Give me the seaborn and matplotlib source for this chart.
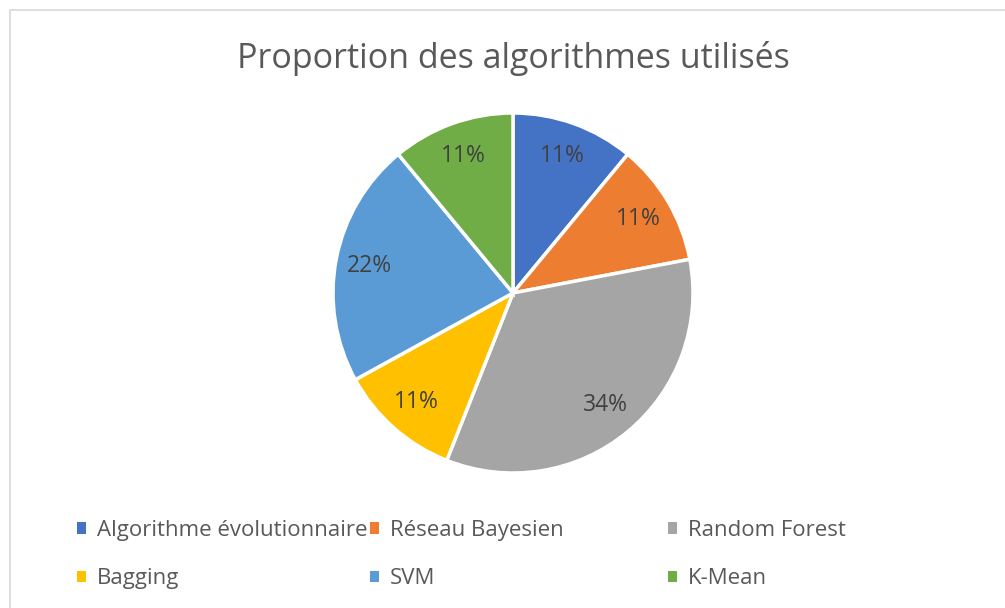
import matplotlib
matplotlib.use("Agg")
import matplotlib.pyplot as plt
from matplotlib.patches import Rectangle, Patch
import seaborn as sns

# data
categories = ["Algorithme évolutionnaire", "Réseau Bayesien", "Random Forest",
              "Bagging", "SVM", "K-Mean"]
shares = [11, 11, 34, 11, 22, 11]
colors = ["#4472C4", "#ED7D31", "#A5A5A5", "#FFC000", "#5B9BD5", "#70AD47"]

sns.set_theme(style="white")
plt.rcParams["font.family"] = ["Open Sans", "DejaVu Sans"]

W, H = 1005, 608
fig = plt.figure(figsize=(W / 100, H / 100), dpi=100)
fig.patch.set_facecolor("white")

# light chart border (top and left edges visible, rest runs off the picture)
fig.add_artist(Rectangle((10 / W, -0.1), 1.2, (H - 10) / H + 0.1,
                         transform=fig.transFigure, fill=False,
                         edgecolor="#D9D9D9", linewidth=1.2))

fig.text(513 / W, 1 - 58 / H, "Proportion des algorithmes utilisés",
         ha="center", va="center", fontsize=24.5, color="#595959")

# pie axes: centre (513, 293), radius 180 px
cx, cy, r = 513, 293, 180
ax = fig.add_axes([(cx - r) / W, (H - cy - r) / H, 2 * r / W, 2 * r / H])
wedges, texts, autotexts = ax.pie(
    shares, colors=colors, startangle=90, counterclock=False,
    autopct=lambda p: f"{p:.0f}%", pctdistance=0.81,
    wedgeprops=dict(edgecolor="white", linewidth=2.5),
    textprops=dict(fontsize=16.5, color="#404040"))
ax.set_xlim(-1.0, 1.0)
ax.set_ylim(-1.0, 1.0)
ax.set_aspect("equal")
ax.axis("off")

# legend: three columns of two rows, Excel style
col_x = [77, 370, 668]
for c in range(3):
    handles = [Patch(facecolor=colors[i], edgecolor="none")
               for i in (c, c + 3)]
    labels = [categories[c], categories[c + 3]]
    fig.legend(handles, labels, loc="upper left",
               bbox_to_anchor=(col_x[c] / W, 1 - 520 / H),
               frameon=False, fontsize=16, labelcolor="#595959",
               handlelength=0.4, handleheight=0.4, handletextpad=0.5,
               labelspacing=1.22, borderaxespad=0, borderpad=0)

fig.savefig("out.png", dpi=100)
